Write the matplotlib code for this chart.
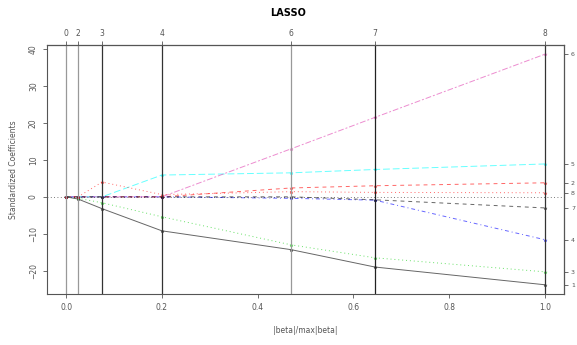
import matplotlib.pyplot as plt

# breakpoints of the lasso path (|beta|/max|beta|) and their step labels
s = [0.0, 0.025, 0.075, 0.2, 0.47, 0.645, 1.0]
step_labels = ['0', '2', '3', '4', '6', '7', '8']

# standardized coefficients at each breakpoint
b1 = [0, -0.6, -3.2, -9.2, -14.3, -19.0, -23.8]
b2 = [0, 0, 0, 0, 2.4, 3.0, 3.8]
b3 = [0, -0.4, -1.6, -5.4, -13.0, -16.5, -20.3]
b4 = [0, 0, 0, 0, -0.4, -0.9, -11.6]
b5 = [0, 0, 0, 5.9, 6.5, 7.4, 8.9]
b6 = [0, 0, 0, 0, 13.0, 21.5, 38.6]
b7 = [0, 0, 0, 0, 0, -0.8, -3.0]
b8 = [0, 0, 4.0, 0.6, 1.4, 1.2, 1.1]
var_labels = ['1', '2', '3', '4', '5', '6', '7', '8']

paths = [b1, b2, b3, b4, b5, b6, b7, b8]
# R matplot defaults: col 1:6, lty 1:5
colors = ['black', 'red', '#00cd00', 'blue', 'cyan', '#e040b0', 'black', 'red']
styles = ['-', (0, (4, 4)), (0, (1, 3)), (0, (1, 3, 4, 3)), (0, (7, 3)),
          (0, (2, 2, 6, 2)), (0, (4, 4)), (0, (1, 3))]

fig = plt.figure(figsize=(5.77, 3.45), dpi=100)
ax = fig.add_axes([47 / 577, 1 - 294 / 345, 517 / 577, 249 / 345])

for b, c, ls in zip(paths, colors, styles):
    ax.plot(s, b, color=c, linestyle=ls, linewidth=0.7, alpha=0.6,
            marker='*', markersize=2.5, markeredgewidth=0.3)

# zero line and breakpoints
ax.axhline(0, color='black', linestyle=(0, (1, 3)), linewidth=0.6, alpha=0.7)
shade = ['#999999', '#999999', '#333333', '#333333', '#999999', '#222222', '#333333']
for x, g in zip(s, shade):
    ax.axvline(x, color=g, linewidth=0.9)

ax.set_xlim(-0.04, 1.04)
ax.set_ylim(-26.3, 41.1)
ax.set_xticks([0.0, 0.2, 0.4, 0.6, 0.8, 1.0])
ax.set_xticklabels(['0.0', '0.2', '0.4', '0.6', '0.8', '1.0'])
ax.set_yticks([-20, -10, 0, 10, 20, 30, 40])
ax.tick_params(labelsize=5.5, length=3, width=0.6, colors='#555555')
plt.setp(ax.get_yticklabels(), rotation=90, va='center')
for sp in ax.spines.values():
    sp.set_color('#555555')
    sp.set_linewidth(0.8)

top = ax.secondary_xaxis('top')
top.set_xticks(s)
top.set_xticklabels(step_labels)
top.tick_params(labelsize=5.5, length=3, width=0.6, colors='#555555', pad=2)

right = ax.secondary_yaxis('right')
right.set_yticks([b[-1] for b in paths])
right.set_yticklabels(var_labels)
right.tick_params(labelsize=4.5, length=3, width=0.6, colors='#555555', pad=2)

ax.set_xlabel('|beta|/max|beta|', fontsize=5.5, color='#555555', labelpad=10)
ax.set_ylabel('Standardized Coefficients', fontsize=5.5, color='#555555', labelpad=8)
fig.text(0.5, 1 - 13 / 345, 'LASSO', ha='center', va='center',
         fontsize=7, fontweight='bold')

plt.savefig('out.png', dpi=100)
